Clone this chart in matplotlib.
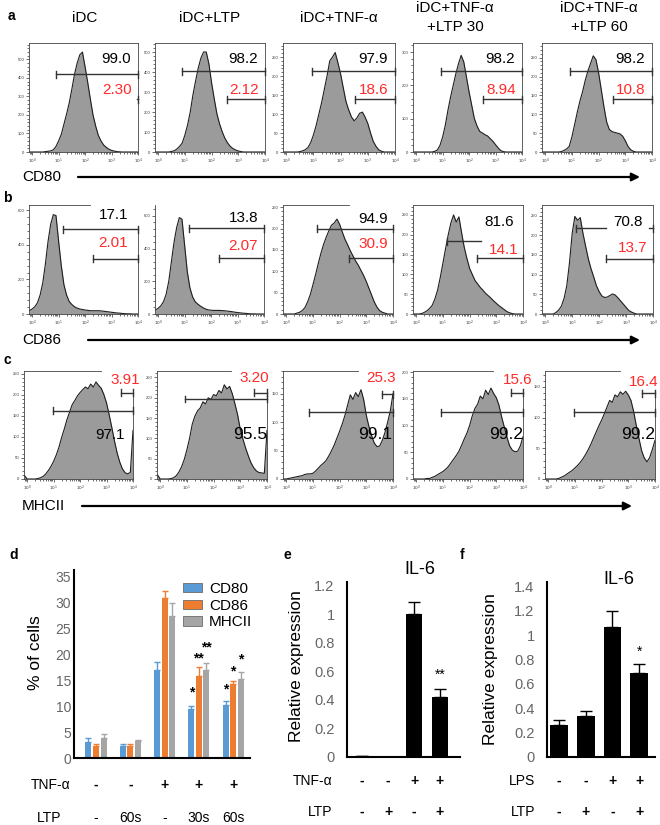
import numpy as np
import matplotlib.pyplot as plt
from matplotlib.patches import Patch
from matplotlib.ticker import AutoMinorLocator, FuncFormatter, MultipleLocator
from matplotlib.transforms import blended_transform_factory

plt.rcParams['font.family'] = ['Liberation Sans', 'DejaVu Sans']

W, H = 660, 825

# flow histograms: event counts per 0.1 decade, log10 intensity -0.1 .. 4.0
LOG_BINS = np.round(np.arange(-1, 41) / 10, 1)

FLOW_TITLES = ['iDC', 'iDC+LTP', 'iDC+TNF-α', 'iDC+TNF-α\n+LTP 30', 'iDC+TNF-α\n+LTP 60']

CD80_IDC = [0, 0, 0, 0, 0, 0, 2, 4, 6, 12, 30, 60, 95, 150, 205, 265, 340, 420, 480, 525, 540,
            460, 375, 285, 200, 140, 90, 60, 38, 25, 15, 9, 5, 2, 1, 0, 0, 0, 0, 0, 0, 0]
CD80_LTP = [0, 0, 0, 0, 0, 0, 3, 6, 15, 28, 45, 85, 135, 200, 285, 355, 420, 470, 500, 500, 440,
            345, 265, 190, 140, 100, 68, 45, 28, 17, 10, 5, 2, 0, 0, 0, 0, 0, 0, 0, 0, 0]
CD80_TNF = [0, 0, 0, 0, 0, 0, 1, 3, 6, 12, 25, 45, 70, 100, 130, 165, 200, 240, 250, 262, 235,
            205, 168, 132, 110, 92, 82, 90, 102, 105, 92, 75, 50, 28, 15, 6, 2, 0, 0, 0, 0, 0]
CD80_TNF30 = [0, 0, 0, 0, 0, 0, 0, 0, 2, 6, 20, 45, 80, 125, 165, 200, 235, 265, 290, 270, 225,
              180, 140, 100, 78, 62, 57, 52, 48, 40, 32, 22, 12, 4, 1, 0, 0, 0, 0, 0, 0, 0]
CD80_TNF60 = [0, 0, 0, 0, 0, 0, 0, 1, 4, 8, 15, 40, 72, 105, 135, 160, 190, 215, 235, 255, 245,
              210, 165, 120, 80, 60, 54, 52, 50, 48, 42, 30, 15, 6, 2, 0, 0, 0, 0, 0, 0, 0]

CD86_IDC = [20, 29, 42, 65, 110, 180, 290, 420, 520, 575, 570, 420, 280, 170, 110, 72, 55, 42,
            34, 29, 26, 23, 21, 19, 19, 19, 19, 18, 16, 14, 12, 10, 8, 6, 5, 3, 2, 1, 1, 0, 0, 0]
CD86_LTP = [25, 35, 50, 75, 120, 200, 320, 440, 530, 590, 580, 420, 260, 160, 105, 75, 60, 48,
            38, 30, 25, 23, 22, 22, 22, 21, 20, 18, 16, 14, 11, 9, 7, 5, 4, 2, 1, 1, 0, 0, 0, 0]
CD86_TNF = [0, 0, 0, 0, 0, 2, 4, 8, 15, 28, 45, 68, 92, 118, 142, 163, 180, 195, 208, 213, 222,
            210, 192, 175, 162, 148, 136, 124, 114, 102, 90, 76, 60, 44, 28, 16, 8, 4, 2, 0, 0, 0]
CD86_TNF30 = [0, 0, 0, 1, 4, 8, 14, 22, 38, 60, 92, 128, 165, 200, 230, 250, 232, 245, 205, 168,
              140, 115, 100, 85, 76, 67, 60, 52, 46, 40, 33, 27, 21, 16, 11, 6, 3, 1, 0, 0, 0, 0]
CD86_TNF60 = [0, 0, 0, 0, 0, 4, 10, 20, 40, 72, 130, 205, 248, 238, 245, 205, 172, 140, 115, 94,
              72, 57, 46, 42, 43, 47, 51, 48, 41, 33, 25, 17, 9, 5, 2, 0, 0, 0, 0, 0, 0, 0]

MHC_IDC = [8, 0, 0, 0, 0, 1, 3, 6, 12, 20, 30, 42, 57, 75, 98, 118, 140, 158, 176, 186, 197,
           205, 212, 218, 214, 225, 218, 230, 222, 215, 200, 180, 152, 122, 90, 62, 40, 24, 15,
           12, 16, 115]
MHC_LTP = [10, 0, 0, 0, 0, 1, 3, 8, 17, 30, 48, 72, 100, 135, 155, 168, 175, 190, 185, 200, 196,
           208, 205, 218, 212, 232, 222, 228, 210, 185, 158, 122, 98, 76, 57, 40, 28, 20, 16,
           15, 14, 120]
MHC_TNF = [0, 0, 1, 2, 3, 4, 5, 6, 8, 9, 9, 10, 14, 19, 24, 28, 33, 41, 50, 60, 72, 84, 97, 112,
           130, 148, 140, 152, 145, 157, 140, 112, 92, 76, 63, 57, 58, 68, 82, 100, 120, 150]
MHC_TNF30 = [0, 0, 0, 0, 0, 1, 1, 3, 5, 8, 11, 14, 18, 23, 30, 37, 44, 52, 63, 75, 86, 100, 118,
             132, 140, 155, 150, 166, 158, 170, 160, 152, 138, 116, 97, 78, 62, 54, 51, 52, 62, 79]
MHC_TNF60 = [0, 0, 0, 0, 0, 1, 3, 5, 8, 11, 14, 18, 22, 27, 33, 40, 48, 57, 67, 77, 87, 96, 106,
             117, 128, 125, 137, 134, 142, 138, 143, 137, 128, 110, 87, 66, 46, 34, 28, 35, 48, 63]

# gates: (start log10, end log10, count level, end ticks)
CD80_GATES = [[(0.91, 4, 419, 'lr'), (3.95, 4, 285, 'r')],
              [(0.90, 4, 405, 'lr'), (2.56, 4, 263, 'lr')],
              [(0.93, 4, 213, 'lr'), (2.54, 4, 139, 'lr')],
              [(0.93, 4, 243, 'lr'), (2.52, 4, 158, 'lr')],
              [(0.91, 4, 214, 'lr'), (2.53, 4, 140, 'lr')]]
CD86_GATES = [[(1.16, 4, 491, 'lr'), (2.30, 4, 320, 'lr')],
              [(1.16, 4, 524, 'lr'), (2.30, 4, 341, 'lr')],
              [(1.14, 4, 200, 'lr'), (2.34, 4, 130, 'lr')],
              [(1.15, 2.41, 184, 'l'), (2.28, 4, 141, 'lr')],
              [(1.13, 2.26, 218, 'l'), (3.85, 4, 218, 'r'), (2.26, 4, 141, 'lr')]]
MHC_GATES = [[(0.99, 4, 162, 'lr'), (3.53, 4, 204, 'lr')],
             [(0.94, 4, 197, 'lr'), (3.52, 4, 212, 'lr')],
             [(0.87, 4, 117, 'lr'), (3.57, 4, 149, 'lr')],
             [(0.92, 4, 125, 'lr'), (3.54, 4, 161, 'lr')],
             [(0.96, 4, 109, 'lr'), (3.53, 4, 140, 'lr')]]

CD80_PCT_ALL = ['99.0', '98.2', '97.9', '98.2', '98.2']
CD80_PCT_HIGH = ['2.30', '2.12', '18.6', '8.94', '10.8']
CD86_PCT_ALL = ['17.1', '13.8', '94.9', '81.6', '70.8']
CD86_PCT_HIGH = ['2.01', '2.07', '30.9', '14.1', '13.7']
MHC_PCT_ALL = ['97.1', '95.5', '99.1', '99.2', '99.2']
MHC_PCT_HIGH = ['3.91', '3.20', '25.3', '15.6', '16.4']

CD80_YMAX = [589, 545, 287, 327, 289]
CD80_YSTEP = [100, 100, 50, 100, 50]
CD86_YMAX = [631, 667, 255, 275, 277]
CD86_YSTEP = [200, 200, 50, 50, 50]
MHC_YMAX = [256, 266, 190, 202, 176]
MHC_YSTEP = [50, 50, 50, 50, 50]

# d: % of positive cells
GROUP_TNF = ['-', '-', '+', '+', '+']
GROUP_LTP = ['-', '60s', '-', '30s', '60s']
CD80_CELLS = [3.15, 2.4, 17.0, 9.5, 10.25]
CD80_CELLS_ERR = [0.65, 0.3, 1.6, 0.6, 0.85]
CD86_CELLS = [2.4, 2.4, 30.9, 15.9, 14.25]
CD86_CELLS_ERR = [0.3, 0.3, 1.3, 1.6, 0.55]
MHC_CELLS = [3.8, 3.35, 27.5, 17.0, 15.2]
MHC_CELLS_ERR = [0.8, 0.15, 2.4, 1.4, 1.4]
# (group, series, marks, height)
CELL_STARS = [(3, 0, '*', 12.6), (3, 1, '**', 19.3), (3, 2, '**', 21.4),
              (4, 0, '*', 13.3), (4, 1, '*', 16.7), (4, 2, '*', 19.1)]

# e / f: IL-6 relative expression
IL6_TNF_SIGNS = ['-', '-', '+', '+']
IL6_LTP_SIGNS = ['-', '+', '-', '+']
IL6_TNF = [0.01, 0.003, 1.0, 0.42]
IL6_TNF_ERR = [0.0, 0.0, 0.085, 0.055]
IL6_LPS = [0.26, 0.336, 1.066, 0.69]
IL6_LPS_ERR = [0.04, 0.045, 0.13, 0.075]

fig = plt.figure(figsize=(6.6, 8.25), dpi=100)


def px_axes(x0, y0, x1, y1):
    return fig.add_axes([x0 / W, 1 - y1 / H, (x1 - x0) / W, (y1 - y0) / H])


ov = fig.add_axes([0, 0, 1, 1])
ov.set_xlim(0, W)
ov.set_ylim(H, 0)
ov.axis('off')
ov.set_zorder(10)


def flow_panel(box, counts, ymax, ystep, gates, top_frac, right_frac):
    ax = px_axes(*box)
    xs = 10.0 ** LOG_BINS
    ax.fill_between(xs, counts, color='#9b9b9b', lw=0)
    ax.plot(xs, counts, color='#1e1e1e', lw=0.8)
    ax.set_xscale('log')
    ax.set_xlim(10 ** -0.12, 10 ** 4)
    ax.set_ylim(0, ymax)
    ax.yaxis.set_major_locator(MultipleLocator(ystep))
    ax.yaxis.set_minor_locator(AutoMinorLocator(5))
    ax.set_xticks([1, 10, 100, 1000, 10000],
                  ['$10^0$', '$10^1$', '$10^2$', '$10^3$', '$10^4$'])
    ax.tick_params(which='major', length=2.2, width=0.5, labelsize=3, pad=1,
                   colors='#333333')
    ax.tick_params(which='minor', length=1.1, width=0.4)
    for s in ['top', 'right']:
        ax.spines[s].set_visible(False)
    for s in ['left', 'bottom']:
        ax.spines[s].set_linewidth(0.6)
        ax.spines[s].set_color('#444444')
    if top_frac > 0:
        ax.plot([0, top_frac], [1, 1], transform=ax.transAxes, color='#444444',
                lw=0.6, clip_on=False)
    ax.plot([1, 1], [0, right_frac], transform=ax.transAxes, color='#444444',
            lw=0.6, clip_on=False)
    tick = ymax * 3.5 / 109
    for x0, x1, y, ends in gates:
        ax.plot([10 ** x0, 10 ** x1], [y, y], color='#333333', lw=1.0, clip_on=False)
        if 'l' in ends:
            ax.plot([10 ** x0] * 2, [y - tick, y + tick], color='#333333', lw=1.0,
                    clip_on=False)
        if 'r' in ends:
            ax.plot([10 ** x1] * 2, [y - tick, y + tick], color='#333333', lw=1.0,
                    clip_on=False)
    return ax


RED = '#ff2a2a'

# row a: CD80
row_a_boxes = [(29, 43, 138, 152), (155, 43, 265, 152), (283, 43, 395, 152),
               (413, 43, 522, 152), (542, 43, 652, 152)]
cd80 = [CD80_IDC, CD80_LTP, CD80_TNF, CD80_TNF30, CD80_TNF60]
for i, box in enumerate(row_a_boxes):
    ax = flow_panel(box, cd80[i], CD80_YMAX[i], CD80_YSTEP[i], CD80_GATES[i], 1, 1)
    ax.text(0.935, 0.85, CD80_PCT_ALL[i], transform=ax.transAxes, ha='right',
            va='center', fontsize=11, color='black')
    ax.text(0.945, 0.57, CD80_PCT_HIGH[i], transform=ax.transAxes, ha='right',
            va='center', fontsize=11, color=RED)

# row b: CD86
row_b_boxes = [(29, 205, 138, 314), (155, 205, 264, 314), (283, 205, 393, 314),
               (413, 205, 523, 314), (542, 205, 653, 314)]
cd86 = [CD86_IDC, CD86_LTP, CD86_TNF, CD86_TNF30, CD86_TNF60]
b_top = [0.56, 0.0, 0.6, 1, 1]
b_right = [0.78, 0.79, 0.78, 1, 1]
b_all_pos = [(0.91, 0.91), (0.945, 0.88), (0.955, 0.87), (0.92, 0.845), (0.91, 0.845)]
b_high_pos = [(0.91, 0.65), (0.945, 0.62), (0.955, 0.64), (0.955, 0.59), (0.945, 0.61)]
for i, box in enumerate(row_b_boxes):
    ax = flow_panel(box, cd86[i], CD86_YMAX[i], CD86_YSTEP[i], CD86_GATES[i],
                    b_top[i], b_right[i])
    ax.text(*b_all_pos[i], CD86_PCT_ALL[i], transform=ax.transAxes, ha='right',
            va='center', fontsize=11, color='black')
    ax.text(*b_high_pos[i], CD86_PCT_HIGH[i], transform=ax.transAxes, ha='right',
            va='center', fontsize=11, color=RED)

# row c: MHCII
row_c_boxes = [(24, 371, 133, 479), (157, 371, 267, 479), (283, 371, 393, 479),
               (413, 371, 523, 479), (545, 371, 655, 479)]
mhc = [MHC_IDC, MHC_LTP, MHC_TNF, MHC_TNF30, MHC_TNF60]
c_top = [0.71, 0.67, 0.68, 0.73, 0.68]
c_all_x = [0.92, 1.0, 0.99, 1.0, 1.0]
c_all_fs = [11, 12.5, 12.5, 12.5, 12.5]
c_high_pos = [(1.065, 0.917), (1.02, 0.935), (1.03, 0.935), (1.085, 0.917), (1.03, 0.9)]
for i, box in enumerate(row_c_boxes):
    ax = flow_panel(box, mhc[i], MHC_YMAX[i], MHC_YSTEP[i], MHC_GATES[i], c_top[i], 0.8)
    ax.text(c_all_x[i], 0.41, MHC_PCT_ALL[i], transform=ax.transAxes, ha='right',
            va='center', fontsize=c_all_fs[i], color='black', zorder=5)
    ax.text(*c_high_pos[i], MHC_PCT_HIGH[i], transform=ax.transAxes, ha='right',
            va='center', fontsize=11, color=RED, clip_on=False)

# column titles
title_x = [85, 210, 339, 455, 599]
for i, t in enumerate(FLOW_TITLES):
    lines = t.split('\n')
    if len(lines) == 1:
        ov.text(title_x[i], 18, lines[0], ha='center', va='center', fontsize=11)
    else:
        ov.text(title_x[i], 8, lines[0], ha='center', va='center', fontsize=11)
        ov.text(title_x[i], 27, lines[1], ha='center', va='center', fontsize=11)

# marker arrows
for name, y, x0, x1 in [('CD80', 177, 78, 640), ('CD86', 340, 88, 640),
                        ('MHCII', 506, 82, 632)]:
    ov.text(22, y, name, ha='left', va='center', fontsize=11)
    ov.annotate('', xy=(x1, y), xytext=(x0, y),
                arrowprops=dict(arrowstyle='-|>', lw=1.6, color='black',
                                mutation_scale=12, shrinkA=0, shrinkB=0))

for letter, x, y in [('a', 11, 16), ('b', 7, 198), ('c', 7, 360),
                     ('d', 14, 555), ('e', 287, 555), ('f', 462, 555)]:
    ov.text(x, y, letter, ha='center', va='center', fontsize=10, fontweight='bold')

TICK_GRAY = '#666666'


def bar_axes_style(ax, pad):
    for s in ['top', 'right']:
        ax.spines[s].set_visible(False)
    for s in ['left', 'bottom']:
        ax.spines[s].set_linewidth(1.5)
    ax.tick_params(length=0, pad=pad, colors=TICK_GRAY)
    ax.set_xticks([])


# d
axd = px_axes(74, 570, 250, 758)
xg = np.arange(len(GROUP_TNF))
series = [('CD80', CD80_CELLS, CD80_CELLS_ERR, '#5b9bd5'),
          ('CD86', CD86_CELLS, CD86_CELLS_ERR, '#ed7d31'),
          ('MHCII', MHC_CELLS, MHC_CELLS_ERR, '#a5a5a5')]
offsets = [-0.22, 0.0, 0.22]
for k, (name, vals, errs, color) in enumerate(series):
    axd.bar(xg + offsets[k], vals, 0.175, color=color,
            yerr=[np.zeros(len(errs)), errs],
            error_kw=dict(ecolor=color, elinewidth=1.0, capsize=2.5, capthick=1.0))
for g, k, mark, y in CELL_STARS:
    axd.text(g + offsets[k], y, mark, ha='center', va='center', fontsize=10,
             fontweight='bold')
axd.set_xlim(-0.64, 4.49)
axd.set_ylim(0, 36.3)
axd.set_yticks(range(0, 36, 5))
bar_axes_style(axd, 2)
for lbl in axd.get_yticklabels():
    lbl.set_fontsize(10)
handles = [Patch(facecolor=c, edgecolor='#6b6b6b', lw=0.6) for _, _, _, c in series]
axd.legend(handles, [s[0] for s in series], loc='upper left',
           bbox_to_anchor=(0.62, 0.937), frameon=False, fontsize=11,
           handlelength=1.25, handleheight=0.55, handletextpad=0.45,
           labelspacing=0.18, borderpad=0, borderaxespad=0)
ov.text(35, 653, '% of cells', rotation=90, ha='center', va='center', fontsize=12.5)
td = blended_transform_factory(axd.transData, ov.transData)
ov.text(51, 785, 'TNF-α', ha='center', va='center', fontsize=10)
ov.text(49, 818, 'LTP', ha='center', va='center', fontsize=10)
for g in range(len(GROUP_TNF)):
    axd.text(g, 785, GROUP_TNF[g], transform=td, ha='center', va='center',
             fontsize=10, fontweight='bold', clip_on=False)
    axd.text(g, 818, GROUP_LTP[g], transform=td, ha='center', va='center',
             fontsize=10, clip_on=False)


def il6_panel(box, vals, errs, ymax, ytop, xlim, width, star, star_y,
              title_xy, ylabel_xy, cond_name, cond_signs, label_right):
    ax = px_axes(*box)
    x = np.arange(len(vals))
    ax.bar(x, vals, width, color='black',
           yerr=[np.zeros(len(errs)), errs],
           error_kw=dict(ecolor='black', elinewidth=1.0, capsize=4, capthick=1.0))
    ax.text(3, star_y, star, ha='center', va='center', fontsize=10)
    ax.set_xlim(*xlim)
    ax.set_ylim(0, ytop)
    ax.yaxis.set_major_formatter(FuncFormatter(lambda v, p: f'{v:.1f}'.rstrip('0').rstrip('.')
                                               if v > 0 else '0'))
    ax.set_yticks(np.round(np.arange(0, ymax + 0.01, 0.2), 1))
    bar_axes_style(ax, 9)
    for lbl in ax.get_yticklabels():
        lbl.set_fontsize(10.5)
    ov.text(*title_xy, 'IL-6', ha='center', va='center', fontsize=13)
    ov.text(*ylabel_xy, 'Relative expression', rotation=90, ha='center', va='center',
            fontsize=12.5)
    tr = blended_transform_factory(ax.transData, ov.transData)
    ov.text(label_right, 781, cond_name, ha='right', va='center', fontsize=10)
    ov.text(label_right, 812, 'LTP', ha='right', va='center', fontsize=10)
    for i in range(len(vals)):
        ax.text(i, 781, cond_signs[i], transform=tr, ha='center', va='center',
                fontsize=10, fontweight='bold', clip_on=False)
        ax.text(i, 812, IL6_LTP_SIGNS[i], transform=tr, ha='center', va='center',
                fontsize=10, fontweight='bold', clip_on=False)
    return ax


il6_panel((347, 582, 460, 757), IL6_TNF, IL6_TNF_ERR, 1.2, 1.228, (-0.58, 3.77), 0.62,
          '**', 0.575, (420, 570), (297, 666), 'TNF-α', IL6_TNF_SIGNS, 332)
il6_panel((547, 582, 655, 757), IL6_LPS, IL6_LPS_ERR, 1.4, 1.435, (-0.46, 3.6), 0.66,
          '*', 0.86, (619, 580), (490, 669), 'LPS', IL6_TNF_SIGNS, 535)

fig.savefig('out.png', dpi=100)
